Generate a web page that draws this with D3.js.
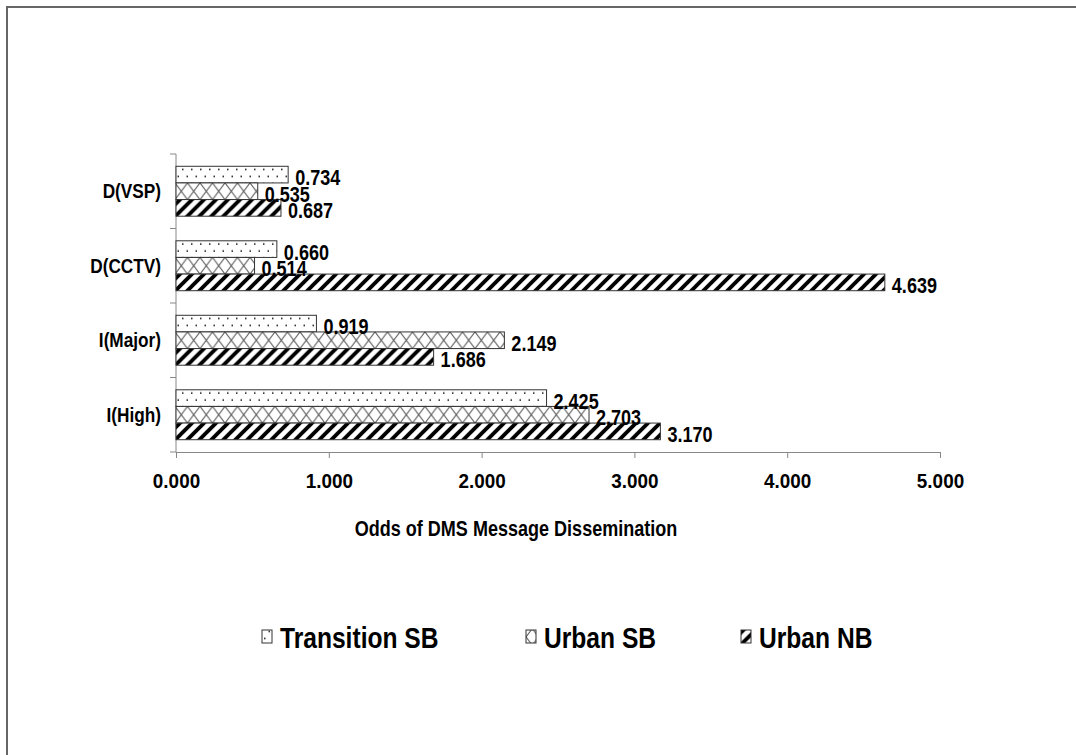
<!DOCTYPE html>
<html>
<head>
<meta charset="utf-8">
<script src="https://cdn.jsdelivr.net/npm/d3@7"></script>
<style>
  body { margin: 0; background: #fff; }
  svg text { font-family: "Liberation Sans", Arial, sans-serif; font-weight: bold; fill: #000; }
</style>
</head>
<body>
<div id="chart"></div>
<script>
const categories = ["D(VSP)", "D(CCTV)", "I(Major)", "I(High)"];
const seriesNames = ["Transition SB", "Urban SB", "Urban NB"];
const transitionSB = [0.734, 0.660, 0.919, 2.425];
const urbanSB = [0.535, 0.514, 2.149, 2.703];
const urbanNB = [0.687, 4.639, 1.686, 3.170];
const xTicks = [0, 1, 2, 3, 4, 5];
const axisTitle = "Odds of DMS Message Dissemination";

const width = 1076;
const height = 755;
const narrow = 0.82; // squeeze text like Arial Narrow
const seriesValues = [transitionSB, urbanSB, urbanNB];
const fmt = d3.format(".3f");

const svg = d3.select("#chart")
    .append("svg")
    .attr("width", width)
    .attr("height", height);

const x = d3.scaleLinear().domain([0, 5]).range([176, 940]);
const y = d3.scaleBand().domain(categories).range([154, 452])
    .paddingInner(0.33).paddingOuter(0.165);
const ySub = d3.scaleBand().domain(seriesNames).range([0, y.bandwidth()]);

// place a text squeezed horizontally
function squeezed(sel, px, py) {
    return sel.attr("transform", (d, i) => `translate(${px(d, i)},${py(d, i)}) scale(${narrow},1)`);
}

// bar rows
const rows = [];
categories.forEach((c, i) => {
    seriesNames.forEach((s, j) => {
        rows.push({ id: "r" + i + "_" + j, cat: c, series: s, k: j, value: seriesValues[j][i] });
    });
});

// patterns, one per bar so the tiles line up with the bar's top edge
const defs = svg.append("defs");
function addPattern(id, k, y0, h) {
    const p = defs.append("pattern")
        .attr("id", id)
        .attr("patternUnits", "userSpaceOnUse")
        .attr("x", 0).attr("y", y0);
    if (k === 0) {
        p.attr("width", 9).attr("height", 14);
        p.append("rect").attr("width", 9).attr("height", 14).attr("fill", "#fff");
        p.append("rect").attr("x", 2).attr("y", 2.5).attr("width", 1.5).attr("height", 1.5).attr("fill", "#111");
        p.append("rect").attr("x", 6.5).attr("y", 9.5).attr("width", 1.5).attr("height", 1.5).attr("fill", "#111");
    } else if (k === 1) {
        p.attr("width", 12.5).attr("height", h);
        p.append("rect").attr("width", 12.5).attr("height", h).attr("fill", "#fff");
        p.append("path")
            .attr("d", `M0,0L12.5,${h}M12.5,0L0,${h}`)
            .attr("stroke", "#444").attr("stroke-width", 1).attr("fill", "none");
    } else {
        p.attr("width", 12).attr("height", 12);
        p.append("rect").attr("width", 12).attr("height", 12).attr("fill", "#fff");
        p.append("path")
            .attr("d", "M-3,3L3,-3M0,12L12,0M9,15L15,9")
            .attr("stroke", "#000").attr("stroke-width", 3.8).attr("fill", "none");
    }
}
rows.forEach(r => addPattern("pat_" + r.id, r.k, y(r.cat) + ySub(r.series), ySub.bandwidth()));

// frame
svg.append("rect")
    .attr("x", 7).attr("y", 7)
    .attr("width", 1200).attr("height", 900)
    .attr("fill", "none").attr("stroke", "#666").attr("stroke-width", 2);

// x axis
const xAxis = svg.append("g")
    .attr("transform", "translate(0,452)")
    .call(d3.axisBottom(x).tickValues(xTicks).tickFormat(fmt).tickSizeInner(6).tickSizeOuter(0).tickPadding(0));
xAxis.select(".domain").attr("stroke", "#888");
xAxis.selectAll(".tick line").attr("stroke", "#888");
xAxis.selectAll(".tick text")
    .attr("y", null).attr("dy", null)
    .attr("transform", `translate(0,36) scale(0.9,1)`)
    .style("font-size", "21px");

// y axis
const yAxis = svg.append("g");
yAxis.append("line")
    .attr("x1", x(0)).attr("x2", x(0))
    .attr("y1", 154).attr("y2", 452)
    .attr("stroke", "#888");
const bounds = [154].concat(categories.slice(1).map(c => y(c) - y.step() * y.paddingInner() / 2), [452]);
yAxis.selectAll("line.tk")
    .data(bounds)
    .join("line")
    .attr("class", "tk")
    .attr("x1", x(0) - 6).attr("x2", x(0))
    .attr("y1", d => d).attr("y2", d => d)
    .attr("stroke", "#888");
yAxis.selectAll("text")
    .data(categories)
    .join("text")
    .call(squeezed, () => 161, d => y(d) + y.bandwidth() / 2)
    .attr("dy", "0.33em")
    .attr("text-anchor", "end")
    .style("font-size", "21px")
    .text(d => d);

// bars
svg.append("g")
    .selectAll("rect")
    .data(rows)
    .join("rect")
    .attr("x", x(0))
    .attr("y", d => y(d.cat) + ySub(d.series))
    .attr("width", d => x(d.value) - x(0))
    .attr("height", ySub.bandwidth())
    .attr("fill", d => `url(#pat_${d.id})`)
    .attr("stroke", "#333")
    .attr("stroke-width", 1);

// value labels
svg.append("g")
    .selectAll("text")
    .data(rows)
    .join("text")
    .call(squeezed, d => x(d.value) + 7, d => y(d.cat) + ySub(d.series) + ySub.bandwidth() / 2)
    .attr("dy", "0.48em")
    .style("font-size", "22px")
    .text(d => fmt(d.value));

// axis title
svg.append("text")
    .attr("transform", `translate(516,536) scale(${narrow},1)`)
    .attr("text-anchor", "middle")
    .style("font-size", "22px")
    .text(axisTitle);

// legend
const legendX = [262, 526, 741];
const legend = svg.append("g")
    .selectAll("g")
    .data(seriesNames)
    .join("g")
    .attr("transform", (d, i) => `translate(${legendX[i]},637)`);
legend.append("rect")
    .attr("x", 0).attr("y", -7)
    .attr("width", 10).attr("height", 13)
    .attr("fill", (d, i) => `url(#pat_r0_${i})`)
    .attr("stroke", "#333");
legend.append("text")
    .attr("transform", `translate(18,0) scale(${narrow},1)`)
    .attr("dy", "0.36em")
    .style("font-size", "30px")
    .text(d => d);
</script>
</body>
</html>
